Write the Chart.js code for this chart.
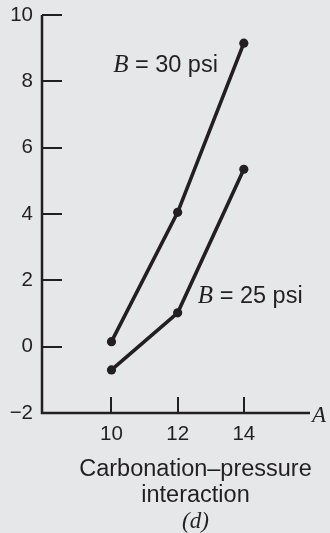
<!DOCTYPE html>
<html>
<head>
<meta charset="utf-8">
<script src="https://cdn.jsdelivr.net/npm/chart.js@4.4.1/dist/chart.umd.min.js"></script>
<style>
  html, body { margin: 0; padding: 0; background: #e6e7e9; }
  #wrap { width: 330px; height: 533px; position: relative; }
</style>
</head>
<body>
<div id="wrap"><canvas id="chart"></canvas></div>
<script>
// Carbonation level A (x) and the response for two pressure settings B
const carbonationA = [10, 12, 14];
const responseB30 = [0.15, 4.05, 9.15];
const responseB25 = [-0.7, 1.02, 5.35];
const seriesNames = ['30 psi', '25 psi'];
const yTickValues = [-2, 0, 2, 4, 6, 8, 10];
const xTickValues = [10, 12, 14];
const axisTitleLines = ['Carbonation\u2013pressure', 'interaction'];
const panelTag = '(d)';

const INK = '#231f20';
const SANS = '"Liberation Sans", Arial, Helvetica, sans-serif';
const SERIF = '"Liberation Serif", "Times New Roman", serif';

function toPoints(xs, ys) {
  return xs.map((x, i) => ({ x: x, y: ys[i] }));
}

function fmtTick(v) {
  return v < 0 ? '\u2212' + Math.abs(v) : String(v);
}

// Draws the axis frame, inward tick marks and the text annotations
const decorations = {
  id: 'decorations',
  afterDatasetsDraw(chart) {
    const ctx = chart.ctx;
    const xs = chart.scales.x, ys = chart.scales.y;
    const left = xs.left, right = xs.right;
    const top = ys.top, bottom = ys.bottom;
    ctx.save();
    ctx.strokeStyle = INK;
    ctx.lineCap = 'butt';

    // axis lines
    ctx.lineWidth = 2.5;
    ctx.beginPath();
    ctx.moveTo(left, top);
    ctx.lineTo(left, bottom);
    ctx.lineTo(right, bottom);
    ctx.stroke();

    // inward tick marks
    ctx.lineWidth = 2;
    ctx.beginPath();
    yTickValues.forEach(v => {
      if (v === yTickValues[0]) return;
      const py = Math.round(ys.getPixelForValue(v));
      ctx.moveTo(left, py);
      ctx.lineTo(left + 20, py);
    });
    xTickValues.forEach(v => {
      const px = Math.round(xs.getPixelForValue(v));
      ctx.moveTo(px, bottom);
      ctx.lineTo(px, bottom - 16);
    });
    ctx.stroke();

    // series labels: italic B followed by the pressure
    ctx.fillStyle = INK;
    ctx.textBaseline = 'alphabetic';
    ctx.textAlign = 'left';
    const labelAt = [
      { x: 10.05, y: 8.28 },
      { x: 12.61, y: 1.32 }
    ];
    seriesNames.forEach((name, i) => {
      let px = xs.getPixelForValue(labelAt[i].x);
      const py = ys.getPixelForValue(labelAt[i].y);
      ctx.font = 'italic 25px ' + SERIF;
      ctx.fillText('B', px, py);
      px += ctx.measureText('B').width;
      ctx.font = '23.5px ' + SANS;
      ctx.fillText(' = ' + name, px, py);
    });

    // axis letter at the end of the x axis
    ctx.font = 'italic 23px ' + SERIF;
    ctx.fillText('A', right + 2, bottom + 9);

    // axis title and panel tag
    ctx.textAlign = 'center';
    const cx = 195.5;
    ctx.font = '23.5px ' + SANS;
    ctx.fillText(axisTitleLines[0], cx, bottom + 63);
    ctx.fillText(axisTitleLines[1], cx, bottom + 89);
    ctx.font = 'italic 23px ' + SERIF;
    ctx.fillText(panelTag, cx, bottom + 115);
    ctx.restore();
  }
};

const lineStyle = {
  borderColor: INK,
  backgroundColor: INK,
  borderWidth: 3.6,
  pointRadius: 4.6,
  pointHoverRadius: 4.6,
  pointBorderWidth: 0,
  pointBackgroundColor: INK,
  showLine: true,
  tension: 0,
  fill: false
};

new Chart(document.getElementById('chart'), {
  type: 'scatter',
  data: {
    datasets: [
      Object.assign({ label: 'B = ' + seriesNames[0], data: toPoints(carbonationA, responseB30) }, lineStyle),
      Object.assign({ label: 'B = ' + seriesNames[1], data: toPoints(carbonationA, responseB25) }, lineStyle)
    ]
  },
  options: {
    responsive: true,
    maintainAspectRatio: false,
    animation: false,
    events: [],
    layout: { padding: { top: 15, right: 20, left: 0, bottom: 0 } },
    plugins: {
      legend: { display: false },
      tooltip: { enabled: false }
    },
    scales: {
      x: {
        type: 'linear',
        min: 7.9,
        max: 16,
        grid: { display: false, drawTicks: false },
        border: { display: false },
        afterBuildTicks: s => { s.ticks = xTickValues.map(v => ({ value: v })); },
        afterFit: s => { s.height = 120; s.paddingLeft = 0; s.paddingRight = 0; },
        ticks: {
          padding: 9,
          color: INK,
          font: { family: SANS, size: 20.5 },
          callback: v => fmtTick(v)
        }
      },
      y: {
        type: 'linear',
        min: -2,
        max: 10,
        grid: { display: false, drawTicks: false },
        border: { display: false },
        afterBuildTicks: s => { s.ticks = yTickValues.map(v => ({ value: v })); },
        afterFit: s => { s.width = 42; s.paddingTop = 0; s.paddingBottom = 0; },
        ticks: {
          padding: 9,
          color: INK,
          font: { family: SANS, size: 20.5 },
          callback: v => fmtTick(v)
        }
      }
    }
  },
  plugins: [decorations]
});
</script>
</body>
</html>
